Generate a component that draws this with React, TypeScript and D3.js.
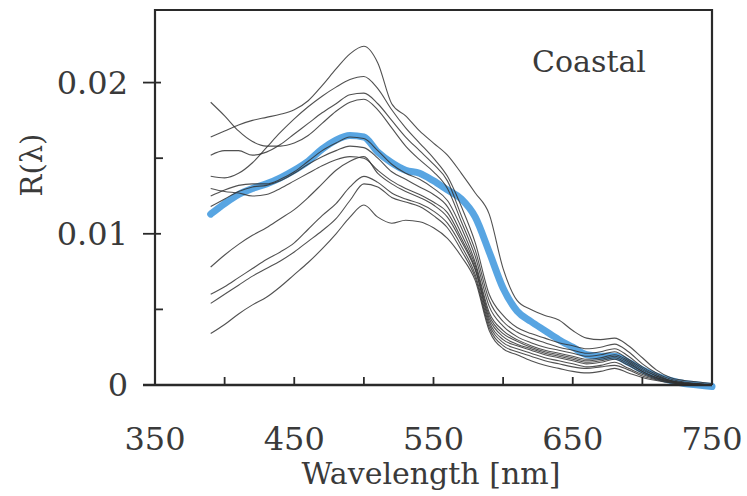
import React from "react";
import * as d3 from "d3";

const wavelengths = [390,400,410,420,430,440,450,460,470,480,490,500,510,520,530,540,550,560,570,580,590,600,610,620,630,640,650,660,670,680,690,700,710,720,730,740,750];

// mean (blue) spectrum
const meanSpectrum = [0.0113,0.0120,0.0126,0.0130,0.0133,0.0137,0.0142,0.0148,0.0156,0.0162,0.0165,0.0164,0.0154,0.0147,0.0142,0.0140,0.0135,0.0129,0.0123,0.0111,0.0088,0.0064,0.0049,0.0042,0.0036,0.0030,0.0025,0.0020,0.0019,0.0019,0.0015,0.0010,0.0006,0.0003,0.0001,0.0000,-0.0001];

// individual spectra (black)
const specA = [0.0164,0.0168,0.0172,0.0175,0.0177,0.0179,0.0182,0.0188,0.0198,0.0209,0.0219,0.0224,0.0213,0.0186,0.0178,0.0168,0.0160,0.0152,0.0140,0.0127,0.0113,0.0077,0.0056,0.0050,0.0046,0.0043,0.0036,0.0031,0.0030,0.0031,0.0026,0.0018,0.0010,0.0005,0.0003,0.0002,0.0001];
const specB = [0.0138,0.0137,0.0140,0.0147,0.0157,0.0167,0.0176,0.0184,0.0191,0.0197,0.0202,0.0204,0.0196,0.0182,0.0170,0.0160,0.0150,0.0138,0.0118,0.0094,0.0060,0.0046,0.0038,0.0034,0.0031,0.0028,0.0026,0.0024,0.0025,0.0027,0.0022,0.0014,0.0008,0.0004,0.0002,0.0001,0.0000];
const specC = [0.0152,0.0155,0.0155,0.0152,0.0154,0.0159,0.0166,0.0173,0.0180,0.0186,0.0192,0.0193,0.0186,0.0175,0.0164,0.0155,0.0146,0.0135,0.0112,0.0089,0.0056,0.0042,0.0035,0.0031,0.0028,0.0025,0.0023,0.0021,0.0022,0.0024,0.0019,0.0012,0.0007,0.0003,0.00015,0.00005,0.0000];
const specD = [0.0187,0.0178,0.0168,0.0161,0.0158,0.0158,0.0160,0.0165,0.0173,0.0181,0.0187,0.0189,0.0182,0.0170,0.0158,0.0149,0.0141,0.0130,0.0108,0.0085,0.0052,0.0039,0.0032,0.0028,0.0025,0.0023,0.0021,0.0019,0.0020,0.0022,0.0017,0.0011,0.0006,0.0003,0.00015,0.00005,0.0000];
const specE = [0.0125,0.0129,0.0132,0.0133,0.0133,0.0136,0.0141,0.0148,0.0155,0.0160,0.0164,0.0163,0.0155,0.0146,0.0140,0.0136,0.0130,0.0122,0.0104,0.0081,0.0048,0.0036,0.0030,0.0026,0.0023,0.0021,0.0019,0.0017,0.0018,0.0020,0.0016,0.0010,0.0006,0.0003,0.0001,0.00005,0.0000];
const specF = [0.0118,0.0123,0.0128,0.0131,0.0132,0.0135,0.0140,0.0146,0.0151,0.0155,0.0158,0.0157,0.0150,0.0141,0.0136,0.0131,0.0126,0.0118,0.0100,0.0079,0.0046,0.0034,0.0029,0.0025,0.0022,0.0020,0.0018,0.0016,0.0017,0.0019,0.0015,0.0009,0.0005,0.00025,0.0001,0.00005,0.0000];
const specK = [0.0130,0.0128,0.0127,0.0125,0.0126,0.0130,0.0135,0.0140,0.0145,0.0149,0.0151,0.0150,0.0142,0.0135,0.0130,0.0126,0.0121,0.0114,0.0097,0.0077,0.0044,0.0032,0.0027,0.0024,0.0021,0.0019,0.0017,0.0015,0.0016,0.0018,0.0014,0.0009,0.0005,0.00025,0.0001,0.00005,0.0000];
const specG = [0.0078,0.0086,0.0093,0.0099,0.0104,0.0110,0.0116,0.0124,0.0133,0.0142,0.0148,0.0151,0.0140,0.0133,0.0128,0.0124,0.0119,0.0111,0.0095,0.0076,0.0042,0.0030,0.0026,0.0023,0.0020,0.0018,0.0016,0.0014,0.0015,0.0017,0.0013,0.0008,0.00045,0.0002,0.0001,0.00005,0.0000];
const specH = [0.0060,0.0065,0.0071,0.0077,0.0083,0.0088,0.0094,0.0103,0.0112,0.0120,0.0131,0.0138,0.0134,0.0127,0.0123,0.0120,0.0115,0.0107,0.0092,0.0073,0.0040,0.0028,0.0024,0.0021,0.0018,0.0016,0.0014,0.0012,0.0013,0.0015,0.0011,0.0007,0.0004,0.0002,0.0001,0.00005,0.0000];
const specI = [0.0054,0.0060,0.0066,0.0072,0.0077,0.0082,0.0088,0.0095,0.0102,0.0110,0.0122,0.0133,0.0131,0.0124,0.0121,0.0118,0.0112,0.0104,0.0089,0.0071,0.0038,0.0026,0.0022,0.0019,0.0016,0.0014,0.0012,0.0011,0.0012,0.0013,0.0010,0.0006,0.00035,0.00015,0.00005,0.0000,0.0000];
const specJ = [0.0034,0.0040,0.0047,0.0053,0.0058,0.0065,0.0073,0.0081,0.0090,0.0100,0.0111,0.0119,0.0111,0.0107,0.0109,0.0108,0.0104,0.0097,0.0085,0.0069,0.0036,0.0024,0.0020,0.0016,0.0013,0.0011,0.0009,0.0008,0.0009,0.0011,0.0008,0.0005,0.0003,0.00015,0.00005,0.0000,0.0000];

const blackSpectra = [specA, specB, specC, specD, specE, specF, specK, specG, specH, specI, specJ];

const xTickValues = [400, 450, 500, 550, 600, 650, 700];
const xLabelValues = [350, 450, 550, 650, 750];
const xLabels = ["350", "450", "550", "650", "750"];
const yMajorValues = [0, 0.01, 0.02];
const yLabels = ["0", "0.01", "0.02"];
const yMinorValues = [0.005, 0.015];

const W = 747, H = 496;
const FONT = "'DejaVu Serif', serif";

export default function App() {
  const x = d3.scaleLinear().domain([350, 750]).range([155, 712]);
  const y = d3.scaleLinear().domain([0, 0.0248]).range([385, 10]);
  const line = d3
    .line<number>()
    .x((_, i) => x(wavelengths[i]))
    .y((d) => y(d))
    .curve(d3.curveMonotoneX);

  const [x0, x1] = x.range();
  const [yb, yt] = y.range();

  return (
    <svg
      width={W}
      height={H}
      viewBox={`0 0 ${W} ${H}`}
      style={{ position: "absolute", left: 0, top: 0, background: "#fff" }}
    >
      <rect x={0} y={0} width={W} height={H} fill="#fff" />
      {/* mean curve */}
      <path d={line(meanSpectrum) || ""} fill="none" stroke="#4a9de0" strokeWidth={7} strokeLinecap="round" strokeLinejoin="round" opacity={0.92} />
      {/* individual spectra */}
      {blackSpectra.map((s, k) => (
        <path key={k} d={line(s) || ""} fill="none" stroke="#333" strokeWidth={1.1} opacity={0.85} />
      ))}
      {/* frame */}
      <path
        d={`M${x0},${yb} L${x0},${yt} L${x1},${yt} L${x1},${yb}`}
        fill="none"
        stroke="#2a2a2a"
        strokeWidth={2.2}
      />
      <line x1={143} x2={x1} y1={yb} y2={yb} stroke="#2a2a2a" strokeWidth={2.4} />
      {/* x ticks */}
      {xTickValues.map((v) => (
        <line key={v} x1={x(v)} x2={x(v)} y1={yb} y2={yb - 8} stroke="#2a2a2a" strokeWidth={1.8} />
      ))}
      {xLabelValues.map((v, i) => (
        <text key={v} x={x(v)} y={450} textAnchor="middle" fontFamily={FONT} fontSize={32} fill="#3a3a3a">
          {xLabels[i]}
        </text>
      ))}
      {/* y ticks */}
      {yMajorValues.map((v, i) => (
        <g key={v}>
          {v !== 0 && <line x1={x0 - 12} x2={x0 + 6} y1={y(v)} y2={y(v)} stroke="#2a2a2a" strokeWidth={1.8} />}
          <text x={128} y={y(v)} dy="0.35em" textAnchor="end" fontFamily={FONT} fontSize={32} fill="#3a3a3a">
            {yLabels[i]}
          </text>
        </g>
      ))}
      {yMinorValues.map((v) => (
        <line key={v} x1={x0} x2={x0 + 8} y1={y(v)} y2={y(v)} stroke="#2a2a2a" strokeWidth={1.8} />
      ))}
      {/* axis titles */}
      <text x={431} y={484} textAnchor="middle" fontFamily={FONT} fontSize={30} fill="#3a3a3a">
        Wavelength [nm]
      </text>
      <text
        transform={`translate(42,165) rotate(-90)`}
        textAnchor="middle"
        fontFamily={FONT}
        fontSize={29}
        fill="#3a3a3a"
      >
        R(λ)
      </text>
      <text x={589} y={72} textAnchor="middle" fontFamily={FONT} fontSize={30} fill="#3a3a3a">
        Coastal
      </text>
    </svg>
  );
}
